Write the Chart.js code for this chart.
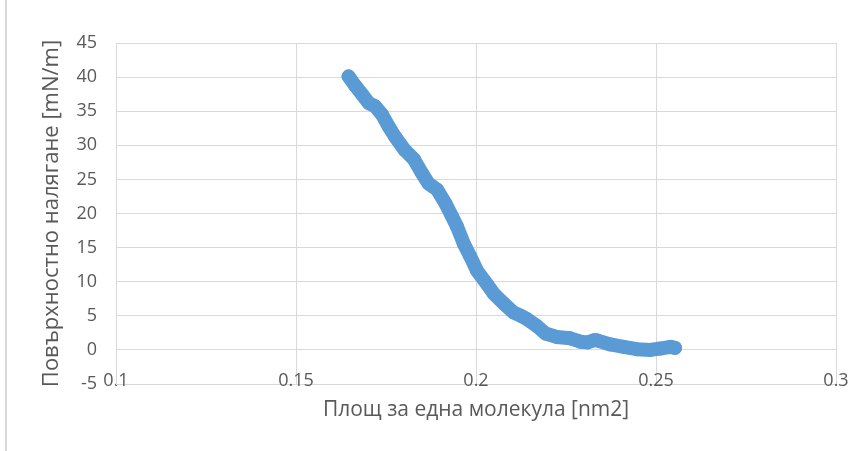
<!DOCTYPE html>
<html>
<head>
<meta charset="utf-8">
<script src="https://cdn.jsdelivr.net/npm/chart.js@4"></script>
<style>
  body { margin: 0; background: #fff; }
  #wrap { position: relative; width: 864px; height: 451px; }
  #frame { position: absolute; left: 5px; top: 0; width: 2px; height: 451px; background: #d9d9d9; }
  canvas { position: absolute; left: 0; top: 0; }
</style>
</head>
<body>
<div id="wrap">
  <div id="frame"></div>
  <canvas id="isotherm" width="864" height="451"></canvas>
</div>
<script>
// area per molecule [nm2] and surface pressure [mN/m]
const area = [
  0.1646, 0.1665, 0.1683, 0.1702, 0.1720, 0.1739, 0.1757, 0.1776, 0.1802, 0.1827,
  0.1850, 0.1868, 0.1892, 0.1915, 0.1933, 0.1947, 0.1966, 0.1984, 0.2003, 0.2031,
  0.2050, 0.2077, 0.2104, 0.2125, 0.2142, 0.2169, 0.2193, 0.2225, 0.2262, 0.2290,
  0.2310, 0.2327, 0.2336, 0.2373, 0.2410, 0.2447, 0.2484, 0.2512, 0.2540, 0.2553
];
const pressure = [
  40.1, 38.7, 37.5, 36.2, 35.7, 34.5, 32.8, 31.2, 29.3, 28.0,
  25.9, 24.4, 23.5, 21.5, 19.6, 18.1, 15.6, 13.7, 11.6, 9.6,
  8.2, 6.8, 5.5, 5.0, 4.5, 3.5, 2.4, 1.9, 1.7, 1.2,
  1.1, 1.4, 1.4, 0.8, 0.45, 0.1, 0.0, 0.2, 0.45, 0.3
];
const xTicks = [0.1, 0.15, 0.2, 0.25, 0.3];
const yTicks = [-5, 0, 5, 10, 15, 20, 25, 30, 35, 40, 45];
const xTitle = "Площ за една молекула [nm2]";
const yTitle = "Повърхностно налягане [mN/m]";

const blue = "#5B9BD5";
const grey = "#595959";
const gridCol = "#d9d9d9";

const points = area.map((x, i) => ({ x: x, y: pressure[i] }));

new Chart(document.getElementById("isotherm"), {
  type: "scatter",
  data: {
    datasets: [{
      data: points,
      showLine: true,
      borderColor: blue,
      borderWidth: 14,
      borderCapStyle: "round",
      borderJoinStyle: "round",
      backgroundColor: blue,
      pointBackgroundColor: blue,
      pointBorderColor: blue,
      pointRadius: 6.5,
      pointBorderWidth: 1
    }]
  },
  options: {
    responsive: false,
    devicePixelRatio: 1,
    animation: false,
    layout: { padding: { top: 43, right: 28, left: 0, bottom: 0 } },
    plugins: { legend: { display: false }, tooltip: { enabled: false } },
    scales: {
      x: {
        type: "linear",
        min: xTicks[0],
        max: xTicks[xTicks.length - 1],
        afterBuildTicks: s => { s.ticks = xTicks.map(v => ({ value: v })); },
        afterFit: s => { s.height = 67; },
        grid: { color: gridCol, drawTicks: false },
        border: { color: gridCol },
        ticks: {
          mirror: true,
          padding: -8,
          color: grey,
          font: { family: "Open Sans", size: 18 },
          maxRotation: 0,
          callback: v => String(+v.toFixed(2))
        },
        title: {
          display: true,
          text: xTitle,
          color: grey,
          font: { family: "Open Sans", size: 21 },
          padding: { top: 0, bottom: 28 }
        }
      },
      y: {
        min: yTicks[0],
        max: yTicks[yTicks.length - 1],
        afterBuildTicks: s => { s.ticks = yTicks.map(v => ({ value: v })); },
        afterFit: s => { s.width = 116; },
        grid: { color: gridCol, drawTicks: false },
        border: { color: gridCol },
        ticks: {
          padding: 19,
          color: grey,
          font: { family: "Open Sans", size: 18 }
        },
        title: {
          display: true,
          text: yTitle,
          color: grey,
          font: { family: "Open Sans", size: 22 },
          padding: { top: 39, bottom: 0 }
        }
      }
    }
  }
});
</script>
</body>
</html>
